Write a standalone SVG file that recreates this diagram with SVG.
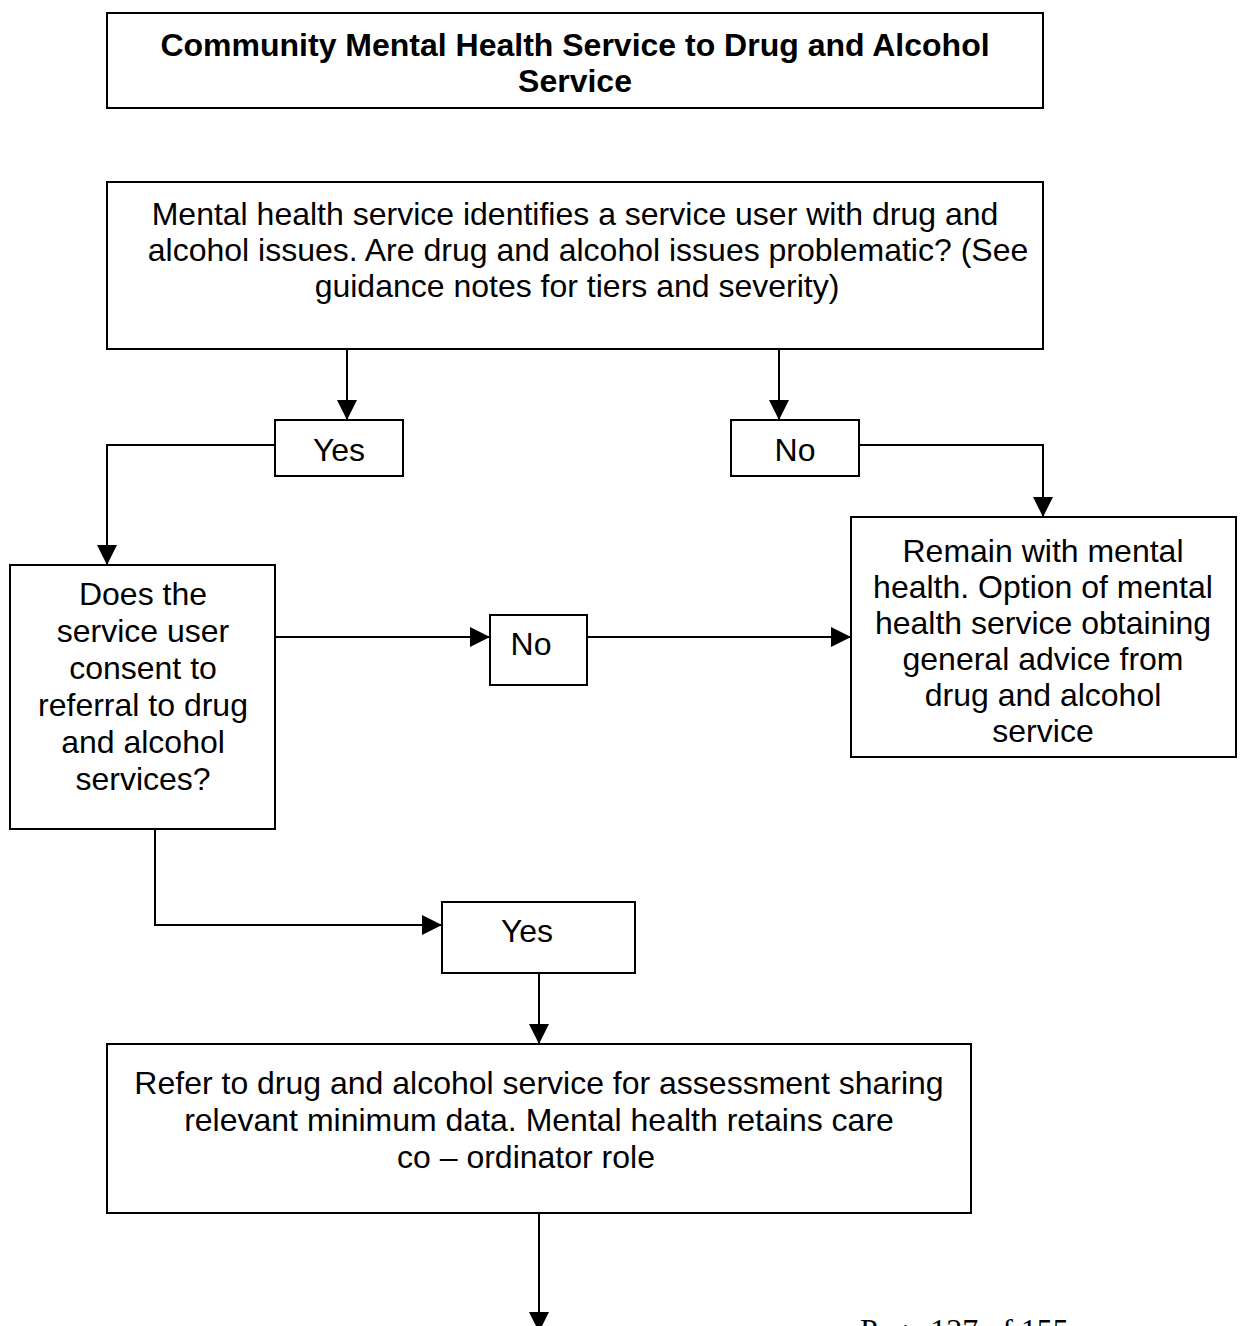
<svg xmlns="http://www.w3.org/2000/svg" width="1243" height="1326" viewBox="0 0 1243 1326">
<style>
.box{fill:#fff;stroke:#000;stroke-width:2}
.t{font-family:"Liberation Sans",Arial,sans-serif;font-size:32px;fill:#000;text-anchor:middle}
.b{font-weight:bold}
.c{fill:none;stroke:#000;stroke-width:2}
.pg{font-family:"Liberation Serif","Times New Roman",serif;font-size:32px;fill:#000}
</style>
<defs>
<marker id="ah" viewBox="0 0 20 20" markerWidth="20" markerHeight="20" refX="20" refY="10" orient="auto" markerUnits="userSpaceOnUse">
<path d="M0,0 L20,10 L0,20 z" fill="#000"/>
</marker>
</defs>
<rect width="1243" height="1326" fill="#fff"/>
<g id="connectors">
<path class="c" d="M347,349 V420" marker-end="url(#ah)"/>
<path class="c" d="M779,349 V420" marker-end="url(#ah)"/>
<path class="c" d="M275,445 H107 V565" marker-end="url(#ah)"/>
<path class="c" d="M851,445 H1043 V517" marker-end="url(#ah)"/>
<path class="c" d="M275,637 H490" marker-end="url(#ah)"/>
<path class="c" d="M587,637 H851" marker-end="url(#ah)"/>
<path class="c" d="M155,829 V925 H442" marker-end="url(#ah)"/>
<path class="c" d="M539,973 V1044" marker-end="url(#ah)"/>
<path class="c" d="M539,1213 V1332" marker-end="url(#ah)"/>
</g>
<g id="title">
<rect class="box" x="107" y="13" width="936" height="95"/>
<text class="t b" x="575" y="56">Community Mental Health Service to Drug and Alcohol</text>
<text class="t b" x="575" y="92">Service</text>
</g>
<g id="identify">
<rect class="box" x="107" y="182" width="936" height="167"/>
<text class="t" x="575" y="225">Mental health service identifies a service user with drug and</text>
<text class="t" x="588" y="261">alcohol issues. Are drug and alcohol issues problematic? (See</text>
<text class="t" x="577" y="297">guidance notes for tiers and severity)</text>
</g>
<g id="yes1">
<rect class="box" x="275" y="420" width="128" height="56"/>
<text class="t" x="339" y="461">Yes</text>
</g>
<g id="no1">
<rect class="box" x="731" y="420" width="128" height="56"/>
<text class="t" x="795" y="461">No</text>
</g>
<g id="consent">
<rect class="box" x="10" y="565" width="265" height="264"/>
<text class="t" x="143" y="605">Does the</text>
<text class="t" x="143" y="642">service user</text>
<text class="t" x="143" y="679">consent to</text>
<text class="t" x="143" y="716">referral to drug</text>
<text class="t" x="143" y="753">and alcohol</text>
<text class="t" x="143" y="790">services?</text>
</g>
<g id="remain">
<rect class="box" x="851" y="517" width="385" height="240"/>
<text class="t" x="1043" y="562">Remain with mental</text>
<text class="t" x="1043" y="598">health. Option of mental</text>
<text class="t" x="1043" y="634">health service obtaining</text>
<text class="t" x="1043" y="670">general advice from</text>
<text class="t" x="1043" y="706">drug and alcohol</text>
<text class="t" x="1043" y="742">service</text>
</g>
<g id="no2">
<rect class="box" x="490" y="615" width="97" height="70"/>
<text class="t" x="531" y="655">No</text>
</g>
<g id="yes2">
<rect class="box" x="442" y="902" width="193" height="71"/>
<text class="t" x="527" y="942">Yes</text>
</g>
<g id="refer">
<rect class="box" x="107" y="1044" width="864" height="169"/>
<text class="t" x="539" y="1094">Refer to drug and alcohol service for assessment sharing</text>
<text class="t" x="539" y="1131">relevant minimum data. Mental health retains care</text>
<text class="t" x="526" y="1168">co – ordinator role</text>
</g>
<g id="page">
<text class="pg" x="860" y="1341">Page 127 of 155</text>
</g>
</svg>
